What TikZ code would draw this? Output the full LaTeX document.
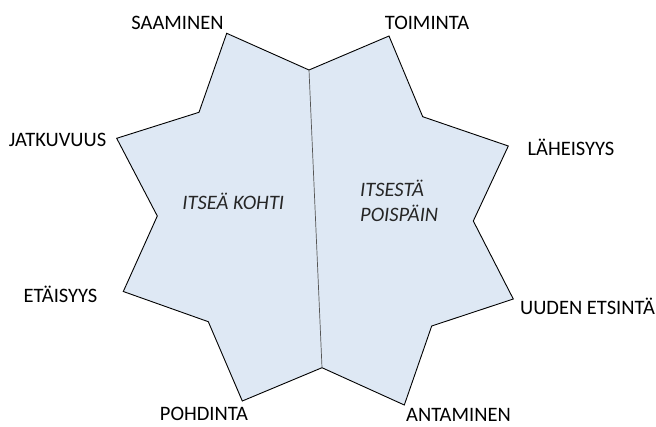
\documentclass[tikz,border=0pt]{standalone}
\usepackage{fontspec}
\setmainfont{Carlito}
\definecolor{starfill}{HTML}{DEE8F4}
\definecolor{divider}{HTML}{555555}
\begin{document}
\begin{tikzpicture}[x=1pt,y=-1pt,
  lbl/.style={font=\fontsize{20.5}{24}\selectfont, inner sep=0pt, anchor=base},
  itl/.style={font=\fontsize{20.5}{24}\selectfont\itshape, inner sep=0pt, text=black!85},
  star/.style={fill=starfill, draw=black, line width=0.9pt, line join=miter},
  divline/.style={draw=divider, line width=0.7pt}]
\useasboundingbox (0,0) rectangle (656,426);
% vertices
\coordinate (p1) at (226.7,33.3);
\coordinate (top) at (309,70);
\coordinate (p3) at (389,36);
\coordinate (p4) at (422.7,116.7);
\coordinate (p5) at (508.3,146);
\coordinate (p6) at (473.3,221);
\coordinate (p7) at (513.3,299);
\coordinate (p8) at (431.7,326);
\coordinate (p9) at (404.3,405);
\coordinate (bot) at (322,367.7);
\coordinate (p11) at (242.3,401);
\coordinate (p12) at (208.3,321.7);
\coordinate (p13) at (123.3,291.5);
\coordinate (p14) at (157.3,216);
\coordinate (p15) at (116.7,138.3);
\coordinate (p16) at (199,112.3);
\path[star] (p1) -- (top) -- (p3) -- (p4) -- (p5) -- (p6) -- (p7) -- (p8) -- (p9) -- (bot) -- (p11) -- (p12) -- (p13) -- (p14) -- (p15) -- (p16) -- cycle;
\draw[divline] (top) -- (bot);
% labels
\node[lbl] (saa) at (177.5,29.3) {SAAMINEN};
\node[lbl] (toi) at (427,29.3) {TOIMINTA};
\node[lbl] (lah) at (571,155) {LÄHEISYYS};
\node[lbl] (jat) at (57.5,146.5) {JATKUVUUS};
\node[lbl] (eta) at (60.5,302.5) {ETÄISYYS};
\node[lbl] (uud) at (587.5,314) {UUDEN ETSINTÄ};
\node[lbl] (poh) at (204,420) {POHDINTA};
\node[lbl] (ant) at (458.5,421) {ANTAMINEN};
\node[itl, anchor=base] (kohti) at (233.3,209) {ITSEÄ KOHTI};
\node[itl, anchor=base west] (its1) at (360,196.7) {ITSESTÄ};
\node[itl, anchor=base west] (its2) at (360,221.5) {POISPÄIN};
\end{tikzpicture}
\end{document}
